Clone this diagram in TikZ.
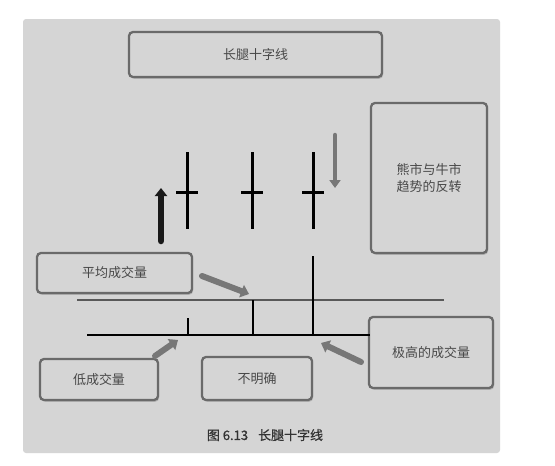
\documentclass[tikz,border=0pt]{standalone}
\usepackage{fontspec}
\newfontfamily\cjk{Noto Sans CJK SC}
\newfontfamily\cjkcap[FakeBold=0.8]{Noto Sans CJK SC}
\usetikzlibrary{arrows.meta,shadows}
\definecolor{panel}{HTML}{D5D5D5}
\definecolor{boxline}{HTML}{6A6A6A}
\definecolor{txt}{HTML}{484848}
\definecolor{garrow}{HTML}{777777}
\tikzset{
  lbox/.style={draw=boxline, line width=2.3pt, rounded corners=4pt, fill=panel,
    drop shadow={shadow xshift=1.2pt, shadow yshift=-1.8pt, opacity=0.4},
    font=\cjk\fontsize{13}{16}\selectfont, text=txt, align=center, inner sep=0pt},
  candle/.style={line width=3pt, draw=black},
  vol/.style={line width=2.2pt, draw=black},
  grayarrow/.style={draw=garrow, line width=6pt, line cap=round,
    -{Triangle[length=8pt,width=13pt]}},
}
\begin{document}
\begin{tikzpicture}[x=1pt,y=-1pt]
\useasboundingbox (0,0) rectangle (555,466);
\fill[white] (0,0) rectangle (555,466);
\fill[panel, rounded corners=3pt] (23,19) rectangle (500,453);

% boxes
\node[lbox, minimum width=253pt, minimum height=45pt] (title) at (255.5,54.5) {长腿十字线};
\node[lbox, minimum width=116pt, minimum height=150pt] (rev) at (429,178) {熊市与牛市\\[1pt]趋势的反转};
\node[lbox, minimum width=155pt, minimum height=40pt] (avg) at (114.5,273) {平均成交量};
\node[lbox, minimum width=118pt, minimum height=41pt] (low) at (99,379.5) {低成交量};
\node[lbox, minimum width=110pt, minimum height=43pt] (unc) at (257,378.5) {不明确};
\node[lbox, minimum width=124pt, minimum height=71pt] (high) at (431,352.5) {极高的成交量};

% candles
\foreach \n/\x in {c1/187,c2/252,c3/313}{
  \coordinate (\n t) at (\x,152);
  \coordinate (\n b) at (\x,229);
  \coordinate (\n l) at (\x-11,192);
  \coordinate (\n r) at (\x+11,192);
  \draw[candle] (\n t) -- (\n b);
  \draw[candle] (\n l) -- (\n r);
}

% trend arrows
\coordinate (upS) at (161,241);
\coordinate (upE) at (161,188);
\draw[draw=black!90, line width=6.5pt, line cap=round, -{Triangle[length=8pt,width=12pt]}] (upS) -- (upE);
\coordinate (dnS) at (335,135);
\coordinate (dnE) at (335,188);
\draw[draw=garrow, line width=4.5pt, line cap=round, -{Triangle[length=8pt,width=11pt]}] (dnS) -- (dnE);

% volume lines
\coordinate (avgL) at (77,300);
\coordinate (avgR) at (444,300);
\draw[draw=black!65, line width=1.6pt] (avgL) -- (avgR);
\coordinate (baseL) at (87,335);
\coordinate (baseR) at (370,335);
\draw[vol] (baseL) -- (baseR);
\coordinate (v1) at (188,318);
\coordinate (v2) at (253,300);
\coordinate (v3) at (313,256);
\draw[vol] (v1) -- (v1 |- baseL);
\draw[vol] (v2) -- (v2 |- baseL);
\draw[vol] (v3) -- (v3 |- baseL);

% pointer arrows
\coordinate (a1S) at (202,276);
\coordinate (a1E) at (249,294);
\draw[grayarrow] (a1S) -- (a1E);
\coordinate (a2S) at (155,356);
\coordinate (a2E) at (178,340);
\draw[grayarrow] (a2S) -- (a2E);
\coordinate (a3S) at (361,362);
\coordinate (a3E) at (321,343);
\draw[grayarrow] (a3S) -- (a3E);

% caption
\node[font=\cjkcap\fontsize{13}{16}\selectfont, text=black!80] (cap) at (265,435) {图 6.13\hspace{10pt}长腿十字线};
\end{tikzpicture}
\end{document}
